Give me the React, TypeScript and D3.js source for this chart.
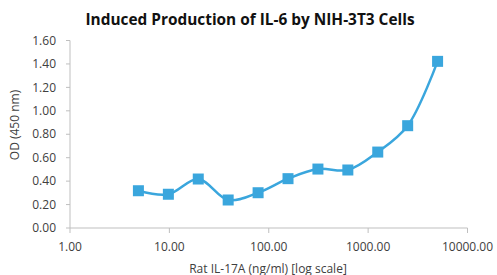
import * as d3 from "d3";

// concentrations (ng/ml) and OD readings
const conc = [4.88, 9.77, 19.53, 39.06, 78.13, 156.25, 312.5, 625, 1250, 2500, 5000];
const od = [0.318, 0.288, 0.418, 0.239, 0.301, 0.421, 0.503, 0.495, 0.648, 0.873, 1.422];
const xTicks = [1, 10, 100, 1000, 10000];
const yTicks = [0, 0.2, 0.4, 0.6, 0.8, 1.0, 1.2, 1.4, 1.6];

const W = 497;
const H = 275;
const left = 70;
const right = 467.5;
const top = 40.5;
const bottom = 228;

const blue = "#3aa6dd";
const axisColor = "#bfbfbf";
const textColor = "#404040";
const font = "'Open Sans', 'DejaVu Sans', sans-serif";

export default function App() {
  const x = d3.scaleLog().domain([1, 10000]).range([left, right]);
  const y = d3.scaleLinear().domain([0, 1.6]).range([bottom, top]);

  const pts: [number, number][] = conc.map((c, i) => [x(c), y(od[i])]);
  const line = d3.line().curve(d3.curveCatmullRom.alpha(0.5))(pts) || "";

  return (
    <svg
      width={W}
      height={H}
      style={{ position: "absolute", left: 0, top: 0, background: "#fff" }}
    >
      <text
        x={250}
        y={25}
        textAnchor="middle"
        fontFamily={font}
        fontWeight="bold"
        fontSize={15.4}
        fill="#111"
      >
        Induced Production of IL-6 by NIH-3T3 Cells
      </text>

      {/* y axis */}
      <line x1={left} x2={left} y1={top} y2={bottom} stroke={axisColor} strokeWidth={1} />
      {yTicks.map((t) => (
        <g key={t}>
          <line x1={left - 4} x2={left} y1={y(t)} y2={y(t)} stroke={axisColor} />
          <text
            x={56}
            y={y(t)}
            dy="0.35em"
            textAnchor="end"
            fontFamily={font}
            fontSize={12}
            fill={textColor}
          >
            {t.toFixed(2)}
          </text>
        </g>
      ))}

      {/* x axis */}
      <line x1={left} x2={right} y1={bottom} y2={bottom} stroke={axisColor} strokeWidth={1} />
      {xTicks.map((t) => (
        <g key={t}>
          <line x1={x(t)} x2={x(t)} y1={bottom} y2={bottom + 5} stroke={axisColor} />
          <text
            x={x(t)}
            y={247}
            dy="0.35em"
            textAnchor="middle"
            fontFamily={font}
            fontSize={12}
            fill={textColor}
          >
            {t.toFixed(2)}
          </text>
        </g>
      ))}

      <text
        x={268}
        y={268}
        textAnchor="middle"
        dominantBaseline="central"
        fontFamily={font}
        fontSize={12}
        fill={textColor}
      >
        Rat IL-17A (ng/ml) [log scale]
      </text>
      <text
        transform={`translate(15, 125) rotate(-90)`}
        dy="0.35em"
        textAnchor="middle"
        fontFamily={font}
        fontSize={12}
        fill={textColor}
      >
        OD (450 nm)
      </text>

      <path d={line} fill="none" stroke={blue} strokeWidth={2.5} />
      {pts.map(([px, py], i) => (
        <rect key={i} x={px - 5.5} y={py - 5.5} width={11} height={11} fill={blue} />
      ))}
    </svg>
  );
}
